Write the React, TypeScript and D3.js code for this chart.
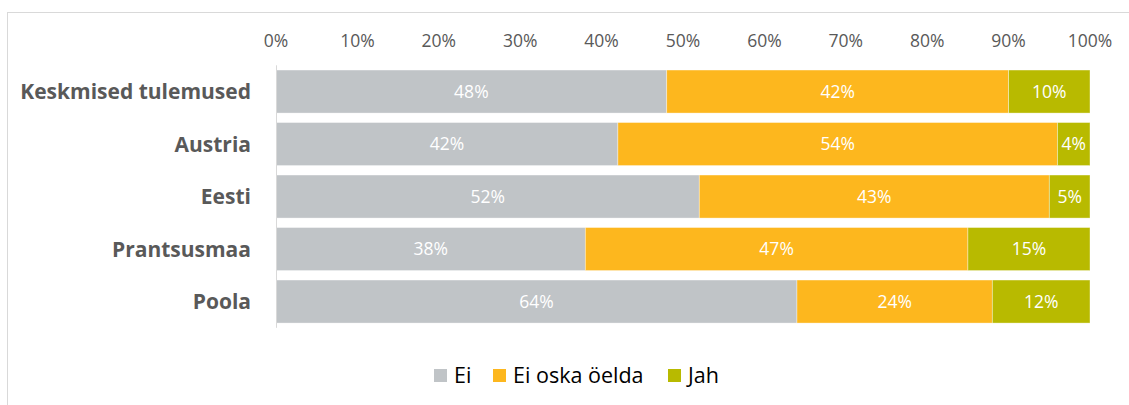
import React from "react";
import * as d3 from "d3";

const categories = ["Keskmised tulemused", "Austria", "Eesti", "Prantsusmaa", "Poola"];
const seriesNames = ["Ei", "Ei oska öelda", "Jah"];
const eiValues = [48, 42, 52, 38, 64];
const eiOskaValues = [42, 54, 43, 47, 24];
const jahValues = [10, 4, 5, 15, 12];
const tickValues = [0, 10, 20, 30, 40, 50, 60, 70, 80, 90, 100];
const colors = ["#C0C4C7", "#FDB71E", "#B8BA00"];

const W = 1129;
const H = 405;
const FONT = "'Open Sans', Lato, sans-serif";

export default function App() {
  const x = d3.scaleLinear().domain([0, 100]).range([276, 1090]);
  const y = d3
    .scaleBand<string>()
    .domain(categories)
    .range([65.3, 327.8])
    .paddingInner(0.18)
    .paddingOuter(0.09);

  const seriesData = [eiValues, eiOskaValues, jahValues];
  const rows = categories.map((c, i) => {
    const rec: any = { cat: c };
    seriesNames.forEach((s, k) => (rec[s] = seriesData[k][i]));
    return rec;
  });
  const stacked = d3.stack<any>().keys(seriesNames)(rows);

  const legendX = [434, 493, 668];

  return (
    <svg
      width={W}
      height={H}
      style={{ position: "absolute", left: 0, top: 0 }}
      fontFamily={FONT}
    >
      <rect x={0} y={0} width={W} height={H} fill="#fff" />
      <rect x={7.5} y={12.5} width={W + 10} height={H + 10} fill="none" stroke="#D9D9D9" strokeWidth={1} />
      {tickValues.map((t) => (
        <text
          key={t}
          x={x(t)}
          y={46.5}
          textAnchor="middle"
          fontSize={17.5}
          fill="#595959"
        >
          {t}%
        </text>
      ))}
      {stacked.map((layer, k) => (
        <g key={layer.key}>
          {layer.map((d, i) => {
            const x0 = x(d[0]);
            const x1 = x(d[1]);
            const yy = y(categories[i])!;
            const val = d[1] - d[0];
            return (
              <g key={i}>
                <rect
                  x={x0}
                  y={yy}
                  width={x1 - x0}
                  height={y.bandwidth()}
                  fill={colors[k]}
                  stroke="#ffffff"
                  strokeOpacity={0.5}
                  strokeWidth={0.75}
                />
                <text
                  x={(x0 + x1) / 2}
                  y={yy + y.bandwidth() / 2 + 6}
                  textAnchor="middle"
                  fontSize={17.5}
                  fill="#ffffff"
                >
                  {val}%
                </text>
              </g>
            );
          })}
        </g>
      ))}
      <line x1={276.5} x2={276.5} y1={y.range()[0]} y2={y.range()[1]} stroke="#D9D9D9" strokeWidth={1} />
      {categories.map((c) => (
        <text
          key={c}
          x={251}
          y={y(c)! + y.bandwidth() / 2 + 7.5}
          textAnchor="end"
          fontSize={21}
          fontWeight="bold"
          fill="#595959"
        >
          {c}
        </text>
      ))}
      {seriesNames.map((s, k) => (
        <g key={s}>
          <rect x={legendX[k]} y={369} width={13} height={13} fill={colors[k]} />
          <text x={legendX[k] + 20} y={383} fontSize={21.5} fill="#000">
            {s}
          </text>
        </g>
      ))}
    </svg>
  );
}
